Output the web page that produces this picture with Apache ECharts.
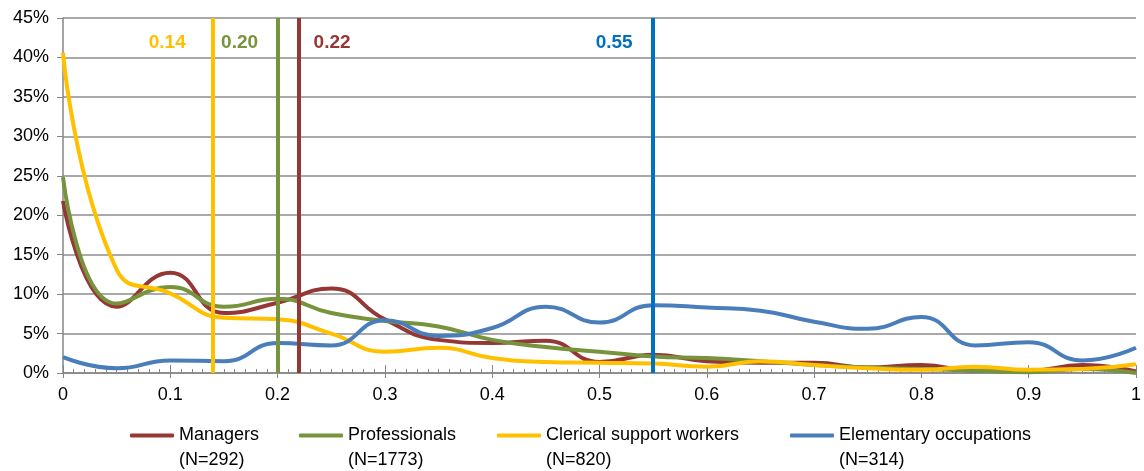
<!DOCTYPE html>
<html>
<head>
<meta charset="utf-8">
<script src="https://cdn.jsdelivr.net/npm/echarts@6/dist/echarts.min.js"></script>
<style>
  html, body { margin: 0; padding: 0; background: #fff; }
  #chart { width: 1144px; height: 471px; }
</style>
</head>
<body>
<div id="chart"></div>
<script>
// x positions of the smoothed points
const xs = [0, 0.05, 0.1, 0.15, 0.2, 0.25, 0.3, 0.35, 0.4, 0.45, 0.5,
  0.55, 0.6, 0.65, 0.7, 0.75, 0.8, 0.85, 0.9, 0.95, 1]

// values in percent
const managers = [21.8, 8.4, 12.7, 7.6, 8.9, 10.7, 6.8, 4.2, 3.8, 4.1, 1.4,
  2.3, 1.5, 1.3, 1.3, 0.7, 1.0, 0.3, 0.3, 1.0, 0.2]
const professionals = [24.8, 8.8, 10.9, 8.4, 9.4, 7.6, 6.6, 5.9, 4.2, 3.3, 2.7,
  2.1, 1.9, 1.5, 1.0, 0.7, 0.5, 0.3, 0.1, 0.5, 0.0]
const clerical = [40.6, 13.1, 10.1, 7.0, 6.8, 5.0, 2.7, 3.2, 1.9, 1.4, 1.3,
  1.2, 0.8, 1.5, 1.0, 0.6, 0.4, 0.8, 0.4, 0.5, 1.1]
const elementary = [2.0, 0.6, 1.6, 1.5, 3.8, 3.5, 6.7, 4.7, 5.7, 8.4, 6.4,
  8.6, 8.3, 7.9, 6.5, 5.6, 7.1, 3.5, 3.9, 1.6, 3.2]

const seriesNames = ['Managers\n(N=292)', 'Professionals\n(N=1773)',
  'Clerical support workers\n(N=820)', 'Elementary occupations\n(N=314)']

// mean values drawn as vertical lines
const means = [0.22, 0.20, 0.14, 0.55]
const meanLabels = ['0.22', '0.20', '0.14', '0.55']

const lineColors = ['#953735', '#77933C', '#FFC000', '#4A7EBB']
const meanColors = ['#953735', '#77933C', '#FFC000', '#0070C0']
const labelOffsets = [[33, 39], [-38, 39], [-46, 39], [-39, 39]]
// legend column widths (text part), to match the spacing of the original
const legendWidths = [120, 149, 244, 210]

const font = '"Liberation Sans", Arial, sans-serif'

const chart = echarts.init(document.getElementById('chart'))

const values = [managers, professionals, clerical, elementary]

const series = values.map((vals, i) => ({
  name: seriesNames[i],
  type: 'line',
  smooth: 0.5,
  showSymbol: false,
  symbol: 'none',
  data: xs.map((x, j) => [x, vals[j]]),
  lineStyle: { width: 4, color: lineColors[i] },
  itemStyle: { color: lineColors[i] },
  markLine: {
    silent: true,
    symbol: 'none',
    animation: false,
    lineStyle: { type: 'solid', width: 4, color: meanColors[i] },
    label: {
      show: true,
      position: 'end',
      formatter: meanLabels[i],
      offset: labelOffsets[i],
      color: meanColors[i],
      fontFamily: font,
      fontWeight: 'bold',
      fontSize: 19
    },
    data: [{ xAxis: means[i] }]
  }
}))

chart.setOption({
  animation: false,
  textStyle: { fontFamily: font },
  grid: {
    left: 63,
    right: 4,
    top: 18,
    bottom: 98
  },
  legend: {
    left: 130,
    top: 398,
    padding: 0,
    icon: 'roundRect',
    itemWidth: 44,
    itemHeight: 4,
    itemGap: 0,
    // blank first line so the icon sits level with the first text line
    formatter: name => ' \n' + name,
    textStyle: {
      fontFamily: font,
      fontSize: 18,
      color: '#000',
      lineHeight: 25
    },
    data: seriesNames.map((n, i) => ({ name: n, textStyle: { width: legendWidths[i] } }))
  },
  xAxis: [{
    type: 'value',
    min: 0,
    max: 1,
    interval: 0.1,
    axisLine: { lineStyle: { color: '#868686', width: 1.5 } },
    axisTick: { show: true, inside: true, length: 8, lineStyle: { color: '#868686' } },
    minorTick: { show: true, splitNumber: 10, length: 4, lineStyle: { color: '#868686' } },
    splitLine: { show: false },
    axisLabel: { color: '#000', fontSize: 18, margin: 13, fontFamily: font }
  }, {
    type: 'value',
    min: 0,
    max: 1,
    interval: 0.1,
    position: 'bottom',
    axisLine: { show: false },
    axisTick: { show: true, inside: false, length: 5, lineStyle: { color: '#868686' } },
    splitLine: { show: false },
    axisLabel: { show: false }
  }],
  yAxis: {
    type: 'value',
    min: 0,
    max: 45,
    interval: 5,
    axisLine: { show: true, lineStyle: { color: '#868686', width: 1.5 } },
    axisTick: { show: true, inside: false, length: 6, lineStyle: { color: '#868686' } },
    splitLine: { lineStyle: { color: '#8c8c8c', width: 1.5 } },
    axisLabel: { formatter: '{value}%', color: '#000', fontSize: 18, margin: 14, fontFamily: font }
  },
  series
})
</script>
</body>
</html>
